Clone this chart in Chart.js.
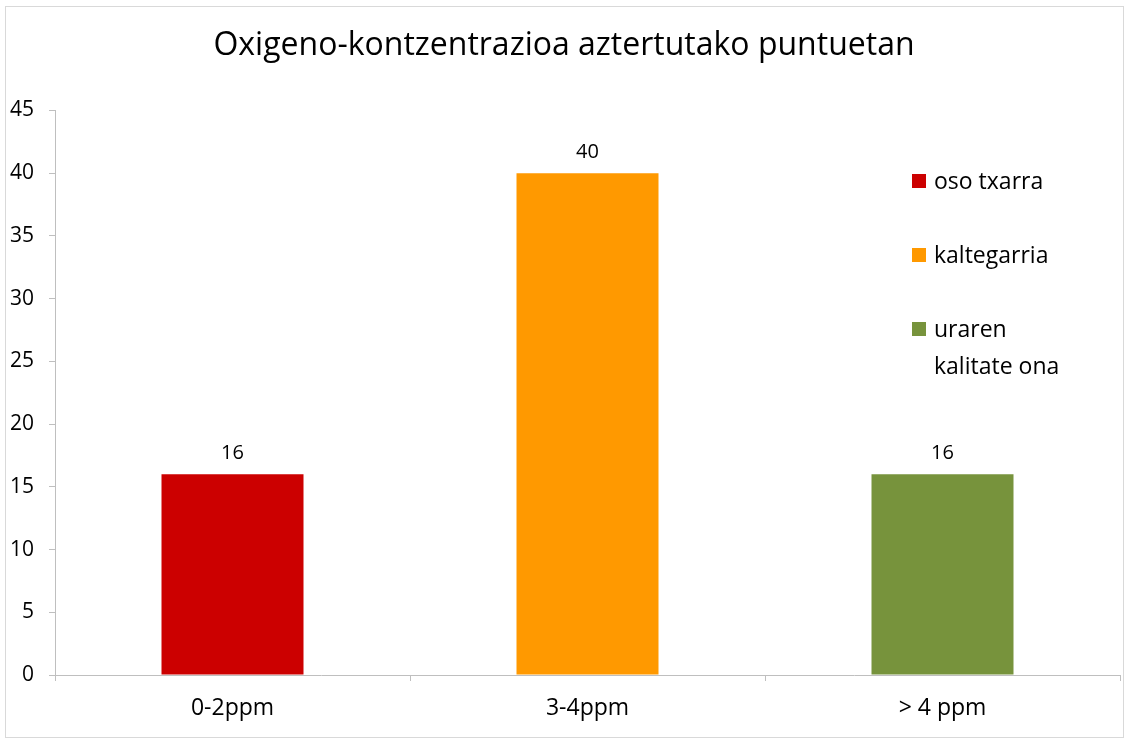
<!DOCTYPE html>
<html>
<head>
<meta charset="utf-8">
<script src="https://cdn.jsdelivr.net/npm/chart.js@4.4.1/dist/chart.umd.min.js"></script>
<style>
  body { margin: 0; background: #fff; }
  #wrap { position: relative; width: 1129px; height: 742px; }
  #legend { position: absolute; left: 912px; top: 162px; font-family: "Open Sans", sans-serif; font-size: 23px; color: #000; }
  #legend .item { display: flex; align-items: flex-start; line-height: 37px; margin-bottom: 37px; }
  #legend .box { width: 14px; height: 14px; margin-top: 12px; margin-right: 8px; flex: none; }
</style>
</head>
<body>
<div id="wrap">
  <canvas id="chart" width="1129" height="742"></canvas>
  <div id="legend"></div>
</div>
<script>
// Kategoriak eta balioak
const categories = ['0-2ppm', '3-4ppm', '> 4 ppm'];
const values = [16, 40, 16];
const legendLabels = ['oso txarra', 'kaltegarria', 'uraren\nkalitate ona'];
const colors = ['#cc0000', '#ff9900', '#77933c'];
const yTicks = [0, 5, 10, 15, 20, 25, 30, 35, 40, 45];

const FONT = '"Open Sans", sans-serif';

// Legenda HTML bidez (grafikoaren barruan)
const legend = document.getElementById('legend');
legendLabels.forEach((label, i) => {
  const item = document.createElement('div');
  item.className = 'item';
  const box = document.createElement('span');
  box.className = 'box';
  box.style.background = colors[i];
  const text = document.createElement('span');
  text.innerHTML = label.replace('\n', '<br>');
  item.appendChild(box);
  item.appendChild(text);
  legend.appendChild(item);
});

// Atzeko planoa eta ertza
const frame = {
  id: 'frame',
  beforeDraw(chart) {
    const ctx = chart.ctx;
    ctx.save();
    ctx.fillStyle = '#fff';
    ctx.fillRect(0, 0, chart.width, chart.height);
    ctx.strokeStyle = '#d9d9d9';
    ctx.lineWidth = 1;
    ctx.strokeRect(5.5, 6.5, 1118, 731);
    ctx.restore();
  }
};

// Balioak barren gainean
const valueLabels = {
  id: 'valueLabels',
  afterDatasetsDraw(chart) {
    const ctx = chart.ctx;
    ctx.save();
    ctx.font = '20px ' + FONT;
    ctx.fillStyle = '#000';
    ctx.textAlign = 'center';
    ctx.textBaseline = 'middle';
    chart.getDatasetMeta(0).data.forEach((bar, i) => {
      ctx.fillText(values[i], bar.x, bar.y - 21);
    });
    ctx.restore();
  }
};

new Chart(document.getElementById('chart'), {
  type: 'bar',
  data: {
    labels: categories,
    datasets: [{
      data: values,
      backgroundColor: colors,
      barPercentage: 0.4,
      categoryPercentage: 1
    }]
  },
  options: {
    responsive: false,
    animation: false,
    layout: { padding: { left: 8, right: 9, top: 0, bottom: 0 } },
    plugins: {
      legend: { display: false },
      tooltip: { enabled: false },
      title: {
        display: true,
        text: 'Oxigeno-kontzentrazioa aztertutako puntuetan',
        color: '#000',
        font: { family: FONT, size: 32, weight: 'normal' },
        padding: { top: 27, bottom: 45 }
      }
    },
    scales: {
      x: {
        border: { color: '#bfbfbf' },
        grid: { drawOnChartArea: false, tickLength: 6, color: '#bfbfbf' },
        ticks: { color: '#000', font: { family: FONT, size: 23 }, padding: 14 },
        afterFit(scale) { scale.height = 67; }
      },
      y: {
        min: 0,
        max: 45,
        afterBuildTicks(scale) { scale.ticks = yTicks.map(v => ({ value: v })); },
        border: { color: '#bfbfbf' },
        grid: { drawOnChartArea: false, tickLength: 6, color: '#bfbfbf' },
        ticks: { color: '#000', font: { family: FONT, size: 21 }, padding: 15 },
        afterFit(scale) { scale.width = 47; }
      }
    }
  },
  plugins: [frame, valueLabels]
});
</script>
</body>
</html>
